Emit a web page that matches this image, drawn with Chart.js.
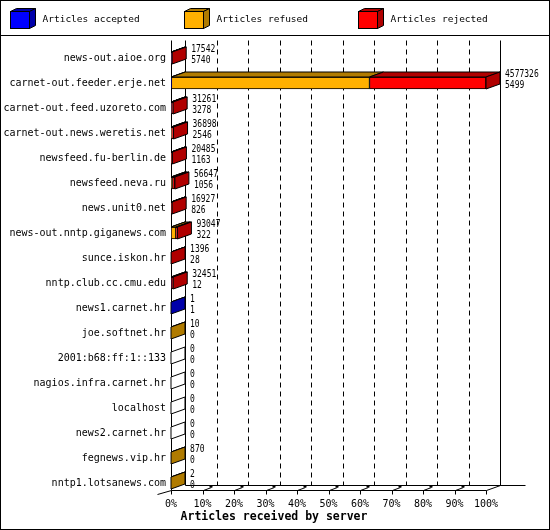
<!DOCTYPE html>
<html>
<head>
<meta charset="utf-8">
<script src="https://cdn.jsdelivr.net/npm/chart.js@4.4.0/dist/chart.umd.min.js"></script>
<style>
html,body{margin:0;padding:0;background:#fff}
canvas{display:block}
</style>
</head>
<body>
<canvas id="c" width="550" height="530"></canvas>
<script>
// data
const servers = ['news-out.aioe.org','carnet-out.feeder.erje.net','carnet-out.feed.uzoreto.com','carnet-out.news.weretis.net',
  'newsfeed.fu-berlin.de','newsfeed.neva.ru','news.unit0.net','news-out.nntp.giganews.com','sunce.iskon.hr',
  'nntp.club.cc.cmu.edu','news1.carnet.hr','joe.softnet.hr','2001:b68:ff:1::133','nagios.infra.carnet.hr',
  'localhost','news2.carnet.hr','fegnews.vip.hr','nntp1.lotsanews.com'];
const offered  = [17542,4577326,31261,36898,20485,56647,16927,93047,1396,32451,1,10,0,0,0,0,870,2];
const accepted = [5740,5499,3278,2546,1163,1056,826,322,28,12,1,0,0,0,0,0,0,0];
const refused  = [1800,2879000,900,9000,2500,21000,1200,70000,0,0,0,10,0,0,0,0,870,2];
const rejected = [10002,1692827,27083,25352,16822,34591,14901,22725,1368,32439,0,0,0,0,0,0,0,0];
const pctTicks = ['0%','10%','20%','30%','40%','50%','60%','70%','80%','90%','100%'];

const SER = [
  {label:'Articles accepted', data:accepted, col:'#0000ff', dark:'#0000aa'},
  {label:'Articles refused',  data:refused,  col:'#ffb000', dark:'#b07b00'},
  {label:'Articles rejected', data:rejected, col:'#ff0000', dark:'#b00000'}
];
const MONO = "'DejaVu Sans Mono',monospace";
const DX = 14, DY = 5; // depth of the fake 3d

function poly(ctx, pts, fill){
  ctx.beginPath(); ctx.moveTo(pts[0][0], pts[0][1]);
  for (let i=1;i<pts.length;i++) ctx.lineTo(pts[i][0], pts[i][1]);
  ctx.closePath();
  if (fill){ ctx.fillStyle = fill; ctx.fill(); }
  ctx.stroke();
}
function line(ctx, a, b, c, d){ ctx.beginPath(); ctx.moveTo(a,b); ctx.lineTo(c,d); ctx.stroke(); }
// narrow text, like the small X11 font of the original
function narrow(ctx, txt, x, y){
  ctx.save(); ctx.translate(x, y); ctx.scale(0.8, 1); ctx.fillText(txt, 0, 0); ctx.restore();
}

const depth = {
  id:'depth',
  beforeDatasetsDraw(chart){
    const {ctx, scales:{x,y}, chartArea:ca} = chart;
    const L = Math.round(x.getPixelForValue(0))+0.5, R = Math.round(x.getPixelForValue(x.max))+0.5;
    const yT = Math.floor(ca.top)-4.5;
    const yF = Math.round(y.getPixelForValue(servers.length-1))+7.5;
    ctx.save(); ctx.strokeStyle='#000'; ctx.lineWidth=1;
    // left wall + back wall edge
    ctx.fillStyle='#fff'; ctx.fillRect(L, yT, DX, yF-yT);
    line(ctx, L, yT, L, yF); line(ctx, L+DX, yT, L+DX, yF-DY);
    line(ctx, R+DX, yT, R+DX, yF-DY);
    // dashed grid on back wall
    ctx.setLineDash([5,4]);
    for (let k=1;k<10;k++){
      const gx = Math.round(x.getPixelForValue(x.max*k/10))+DX+0.5;
      line(ctx, gx, yT, gx, yF-DY);
    }
    ctx.setLineDash([]);
    // floor
    line(ctx, L, yF, R, yF); line(ctx, R, yF, R+DX, yF-DY);
    line(ctx, L+DX, yF-DY, R+DX+25, yF-DY); line(ctx, L, yF, L-DX, yF+DY-1);
    ctx.fillStyle='#000';
    for (let k=0;k<=10;k++){
      const fx = Math.round(x.getPixelForValue(x.max*k/10))+0.5;
      line(ctx, fx, yF, fx, yF+4);
      if (k>0 && k<10){ line(ctx, fx, yF, fx+8, yF-3); ctx.fillRect(fx+6, yF-5, 3, 2); }
    }
    ctx.restore();
  },
  afterDatasetsDraw(chart){
    const {ctx, scales:{x}} = chart;
    const x0 = x.getPixelForValue(0);
    ctx.save(); ctx.strokeStyle='#000'; ctx.lineWidth=1;
    ctx.font = '10px '+MONO; ctx.textBaseline='middle'; ctx.textAlign='left';
    servers.forEach((s,j)=>{
      let endX = x0, last = -1, cy = 0, h = 12;
      SER.forEach((d,i)=>{
        const el = chart.getDatasetMeta(i).data[j];
        cy = el.y; h = el.height;
        if (d.data[j] > 0){
          const a = Math.min(el.base, el.x), b = Math.max(el.base, el.x), t = el.y-h/2;
          poly(ctx, [[a,t],[a+DX,t-DY],[b+DX,t-DY],[b,t]], d.dark);
          endX = b; last = i;
        }
      });
      const t = cy-h/2, bt = cy+h/2;
      poly(ctx, [[endX,t],[endX+DX,t-DY],[endX+DX,bt-DY],[endX,bt]], last<0 ? '#fff' : SER[last].dark);
      ctx.fillStyle='#000';
      narrow(ctx, String(offered[j]), endX+DX+5, cy-9);
      narrow(ctx, String(accepted[j]), endX+DX+5, cy+2);
    });
    ctx.restore();
  },
  afterDraw(chart){
    const ctx = chart.ctx;
    ctx.save(); ctx.strokeStyle='#000'; ctx.lineWidth=1;
    // legend
    ctx.font = '9.5px '+MONO; ctx.textBaseline='middle'; ctx.textAlign='left';
    SER.forEach((d,i)=>{
      const bx = 10.5 + i*174, by = 11.5;
      poly(ctx, [[bx,by],[bx+6,by-3],[bx+25,by-3],[bx+19,by]], d.dark);
      poly(ctx, [[bx+19,by],[bx+25,by-3],[bx+25,by+14],[bx+19,by+17]], d.dark);
      ctx.fillStyle=d.col; ctx.fillRect(bx,by,19,17); ctx.strokeRect(bx,by,19,17);
      ctx.fillStyle='#000'; ctx.fillText(d.label, bx+32, 20);
    });
    line(ctx, 0, 35.5, 550, 35.5);
    ctx.strokeRect(0.5, 0.5, 549, 529);
    // axis title
    ctx.font = 'bold 11.5px '+MONO; ctx.textAlign='center';
    ctx.fillText('Articles received by server', 274, 517);
    ctx.restore();
  }
};

new Chart(document.getElementById('c'), {
  type:'bar',
  data:{
    labels: servers,
    datasets: SER.map(d=>({label:d.label, data:d.data, backgroundColor:d.col, borderColor:'#000',
      borderWidth:1, borderSkipped:false, barThickness:12}))
  },
  options:{
    indexAxis:'y', responsive:false, animation:false, devicePixelRatio:1,
    layout:{padding:{top:45.5, right:64, bottom:0, left:0}},
    plugins:{legend:{display:false}, tooltip:{enabled:false}},
    scales:{
      x:{stacked:true, min:0, max:Math.max(...offered),
        grid:{display:false, drawTicks:false}, border:{display:false},
        ticks:{count:11, padding:3, color:'#000', font:{family:MONO, size:10},
          callback:(v,i)=>pctTicks[i]},
        afterFit:s=>{ s.height = 34.5; }},
      y:{stacked:true,
        grid:{display:false, drawTicks:false}, border:{display:false},
        ticks:{autoSkip:false, padding:5, color:'#000', font:{family:MONO, size:10}},
        afterFit:s=>{ s.width = 171; }}
    }
  },
  plugins:[depth]
});
</script>
</body>
</html>
